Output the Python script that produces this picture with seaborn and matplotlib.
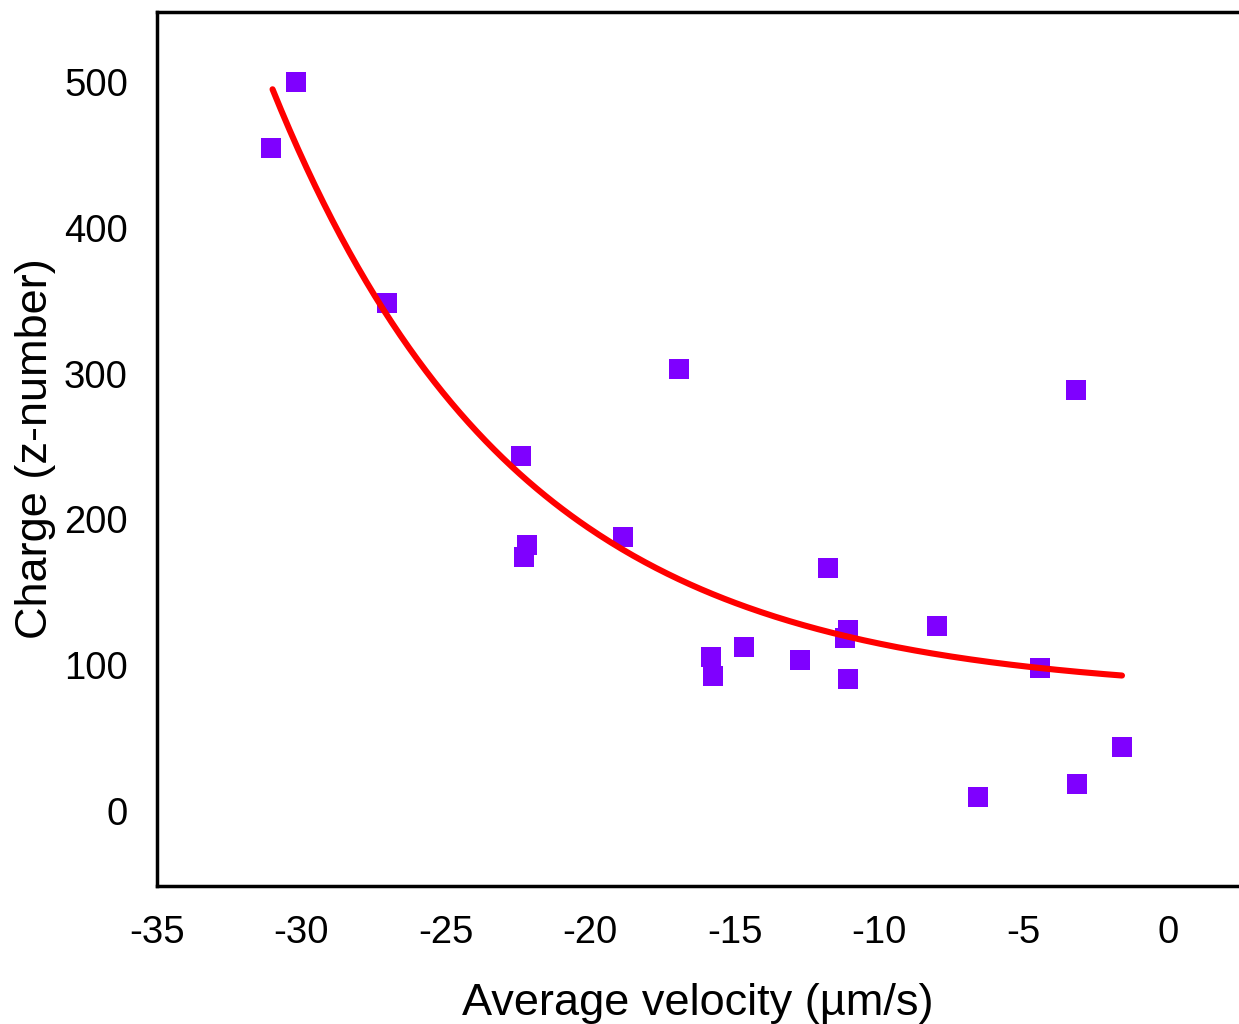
import numpy as np
import pandas as pd
import matplotlib
matplotlib.use("Agg")
import matplotlib.pyplot as plt
import seaborn as sns

# Measured particles: average velocity (um/s) and charge (z-number)
velocity = [-31.05, -30.19, -27.04, -16.93, -3.19, -22.40, -22.19, -22.30,
            -18.87, -11.77, -8.00, -11.08, -11.19, -15.82, -14.68, -12.74,
            -15.75, -11.08, -4.44, -1.60, -3.16, -6.58]
charge = [454.7, 500.0, 348.4, 303.2, 288.8, 243.5, 182.4, 174.2,
          187.9, 166.7, 126.9, 124.1, 118.7, 105.6, 112.5, 103.6,
          92.6, 90.5, 98.1, 43.9, 18.5, 9.6]

# Exponential decay fit: charge = fit_offset + fit_amp * exp(-fit_rate * velocity)
fit_offset = 80.0
fit_amp = 10.7
fit_rate = 0.118
fit_range = (-31.0, -1.6)

x_ticks = [-35, -30, -25, -20, -15, -10, -5, 0]
y_ticks = [0, 100, 200, 300, 400, 500]

sns.set_theme(style="white")
plt.rcParams["font.family"] = ["Liberation Sans", "DejaVu Sans"]

fig = plt.figure(figsize=(12.39, 10.24), dpi=100)
ax = fig.add_axes([0.1267, 0.1348, 0.8733, 0.8535])

pts = pd.DataFrame({"velocity": velocity, "charge": charge})
sns.scatterplot(data=pts, x="velocity", y="charge", marker="s", s=205,
                color="#7F00FF", linewidth=0, ax=ax, zorder=3)

xf = np.linspace(fit_range[0], fit_range[1], 300)
curve = pd.DataFrame({"velocity": xf,
                      "charge": fit_offset + fit_amp * np.exp(-fit_rate * xf)})
sns.lineplot(data=curve, x="velocity", y="charge", color="#FF0000",
             linewidth=4.4, ax=ax, zorder=4, solid_capstyle="round")

ax.set_xlim(-35, 2.45)
ax.set_ylim(-51.4, 548)
ax.set_xticks(x_ticks)
ax.set_yticks(y_ticks)
ax.set_xticklabels([str(t) for t in x_ticks])
ax.set_yticklabels([str(t) for t in y_ticks])
ax.tick_params(axis="both", length=0, labelsize=27.5, pad=21, colors="black")

for side in ["left", "top", "bottom"]:
    ax.spines[side].set_visible(True)
    ax.spines[side].set_color("black")
    ax.spines[side].set_linewidth(2.5)
ax.spines["right"].set_visible(False)

ax.set_xlabel("Average velocity (\u00b5m/s)", fontsize=32.5, labelpad=23, color="black")
ax.set_ylabel("Charge (z-number)", fontsize=32.5, labelpad=6, color="black")
ax.grid(False)

fig.savefig("out.png", dpi=100)
